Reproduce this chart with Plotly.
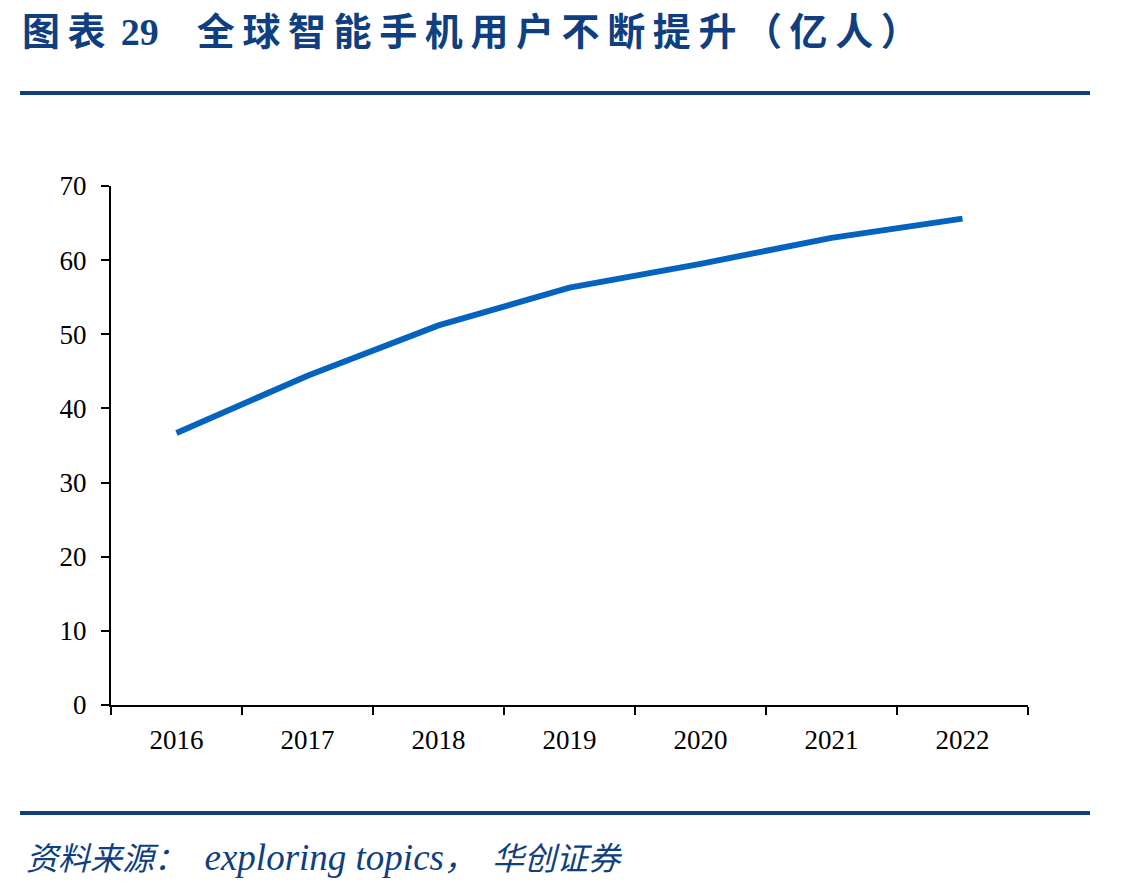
import plotly.graph_objects as go

years = ["2016", "2017", "2018", "2019", "2020", "2021", "2022"]
users = [36.7, 44.4, 51.2, 56.3, 59.5, 63.0, 65.6]
y_ticks = [0, 10, 20, 30, 40, 50, 60, 70]

W, H = 1128, 889
L, R, T, B = 111, 1028, 186, 705
pw, ph = R - L, B - T

def px(x):
    return (x - L) / pw

def py(y):
    return (B - y) / ph

navy = "#0F3F80"
line_blue = "#0563C0"

sp = "\u2009"
title_cjk = sp.join("全球智能手机用户不断提升（亿人）")

fig = go.Figure()
fig.add_trace(go.Scatter(
    x=years, y=users, mode="lines",
    line=dict(color=line_blue, width=6),
    hoverinfo="skip", showlegend=False,
))

fig.update_layout(
    width=W, height=H,
    margin=dict(l=L, r=W - R, t=T, b=H - B),
    paper_bgcolor="white", plot_bgcolor="white",
    font=dict(family="Liberation Serif, Noto Sans CJK SC", color="black", size=27),
    xaxis=dict(
        type="category", range=[-0.5, 6.5],
        showline=True, linecolor="black", linewidth=2,
        ticks="outside", tickson="boundaries", ticklen=8, tickwidth=2, tickcolor="black",
        showgrid=False, zeroline=False, ticklabelstandoff=10,
        tickfont=dict(family="Liberation Serif", size=27, color="black"),
    ),
    yaxis=dict(
        range=[0, 70], tickvals=y_ticks,
        showline=True, linecolor="black", linewidth=2,
        ticks="outside", ticklen=8, tickwidth=2, tickcolor="black",
        showgrid=False, zeroline=False, ticklabelstandoff=9,
        tickfont=dict(family="Liberation Serif", size=27, color="black"),
    ),
    shapes=[
        dict(type="line", xref="paper", yref="paper",
             x0=px(20), x1=px(1090), y0=py(93), y1=py(93),
             line=dict(color=navy, width=4)),
        dict(type="line", xref="paper", yref="paper",
             x0=px(20), x1=px(1090), y0=py(813), y1=py(813),
             line=dict(color=navy, width=4)),
    ],
    annotations=[
        dict(xref="paper", yref="paper", x=px(20), y=py(29),
             xanchor="left", yanchor="middle", showarrow=False,
             text="<b>图" + sp + "表" + sp + sp + "<span style='font-family:Liberation Serif'>29</span>　" + title_cjk + "</b>",
             font=dict(family="Noto Sans CJK SC", size=38, color=navy)),
        dict(xref="paper", yref="paper", x=px(24), y=py(857),
             xanchor="left", yanchor="middle", showarrow=False,
             text="<i>资料来源：<span style='font-size:37px'>  exploring topics</span>，  华创证券</i>",
             font=dict(family="Liberation Serif, Noto Sans CJK SC", size=32, color=navy)),
    ],
)

fig.write_html("out.html")
